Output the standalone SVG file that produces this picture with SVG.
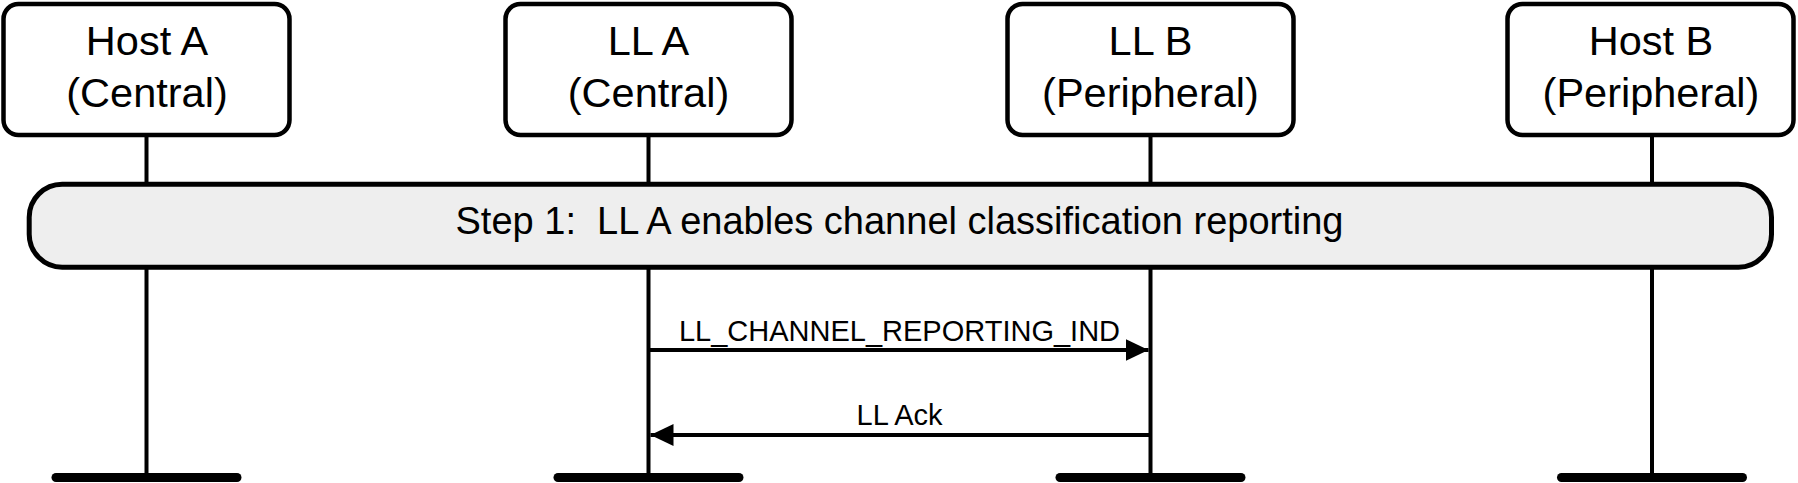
<svg xmlns="http://www.w3.org/2000/svg" width="1798" height="483" viewBox="0 0 1798 483">
<style>
.box{fill:#fff;stroke:#000;stroke-width:4.5}
.step{fill:#eeeeee;stroke:#000;stroke-width:5}
.life{stroke:#000;stroke-width:4;fill:none}
.bar{stroke:#000;stroke-width:9;stroke-linecap:round}
.msg{stroke:#000;stroke-width:4;fill:none}
.t{font-family:"Liberation Sans",Arial,sans-serif;fill:#000;text-anchor:middle}
.tb{font-size:41.5px}
.ts{font-size:38px;white-space:pre}
.tm{font-size:29px}
</style>
<defs>
<marker id="ah" markerUnits="userSpaceOnUse" markerWidth="24" markerHeight="24" viewBox="0 0 24 24" refX="23" refY="12" orient="auto">
<path d="M0,1 L23,12 L0,23 Z" fill="#000"/>
</marker>
</defs>
<g id="lifelines">
<line class="life" x1="146.5" y1="137" x2="146.5" y2="477"/>
<line class="life" x1="648.5" y1="137" x2="648.5" y2="477"/>
<line class="life" x1="1150.5" y1="137" x2="1150.5" y2="477"/>
<line class="life" x1="1652" y1="137" x2="1652" y2="477"/>
<line class="bar" x1="56" y1="477.5" x2="237" y2="477.5"/>
<line class="bar" x1="558" y1="477.5" x2="739" y2="477.5"/>
<line class="bar" x1="1060" y1="477.5" x2="1241" y2="477.5"/>
<line class="bar" x1="1561.5" y1="477.5" x2="1742.5" y2="477.5"/>
</g>
<g id="hostA">
<rect class="box" x="3.5" y="4" width="286" height="131" rx="15"/>
<text class="t tb" x="147" y="55">Host A</text>
<text class="t tb" x="147" y="106.7">(Central)</text>
</g>
<g id="llA">
<rect class="box" x="505.5" y="4" width="286" height="131" rx="15"/>
<text class="t tb" x="648.5" y="55">LL A</text>
<text class="t tb" x="648.5" y="106.7">(Central)</text>
</g>
<g id="llB">
<rect class="box" x="1007.5" y="4" width="286" height="131" rx="15"/>
<text class="t tb" x="1150.5" y="55">LL B</text>
<text class="t tb" x="1150.5" y="106.7">(Peripheral)</text>
</g>
<g id="hostB">
<rect class="box" x="1507.5" y="4" width="286" height="131" rx="15"/>
<text class="t tb" x="1651" y="55">Host B</text>
<text class="t tb" x="1651" y="106.7">(Peripheral)</text>
</g>
<g id="step1">
<rect class="step" x="29.2" y="184.2" width="1742.3" height="83" rx="33"/>
<text class="t ts" x="899.5" y="234.3" xml:space="preserve">Step 1:  LL A enables channel classification reporting</text>
</g>
<g id="connectors">
<line class="msg" x1="648.5" y1="350" x2="1148.5" y2="350" marker-end="url(#ah)"/>
<text class="t tm" x="899.5" y="340.5">LL_CHANNEL_REPORTING_IND</text>
<line class="msg" x1="1150.5" y1="435" x2="650.5" y2="435" marker-end="url(#ah)"/>
<text class="t tm" x="899.5" y="425">LL Ack</text>
</g>
</svg>
